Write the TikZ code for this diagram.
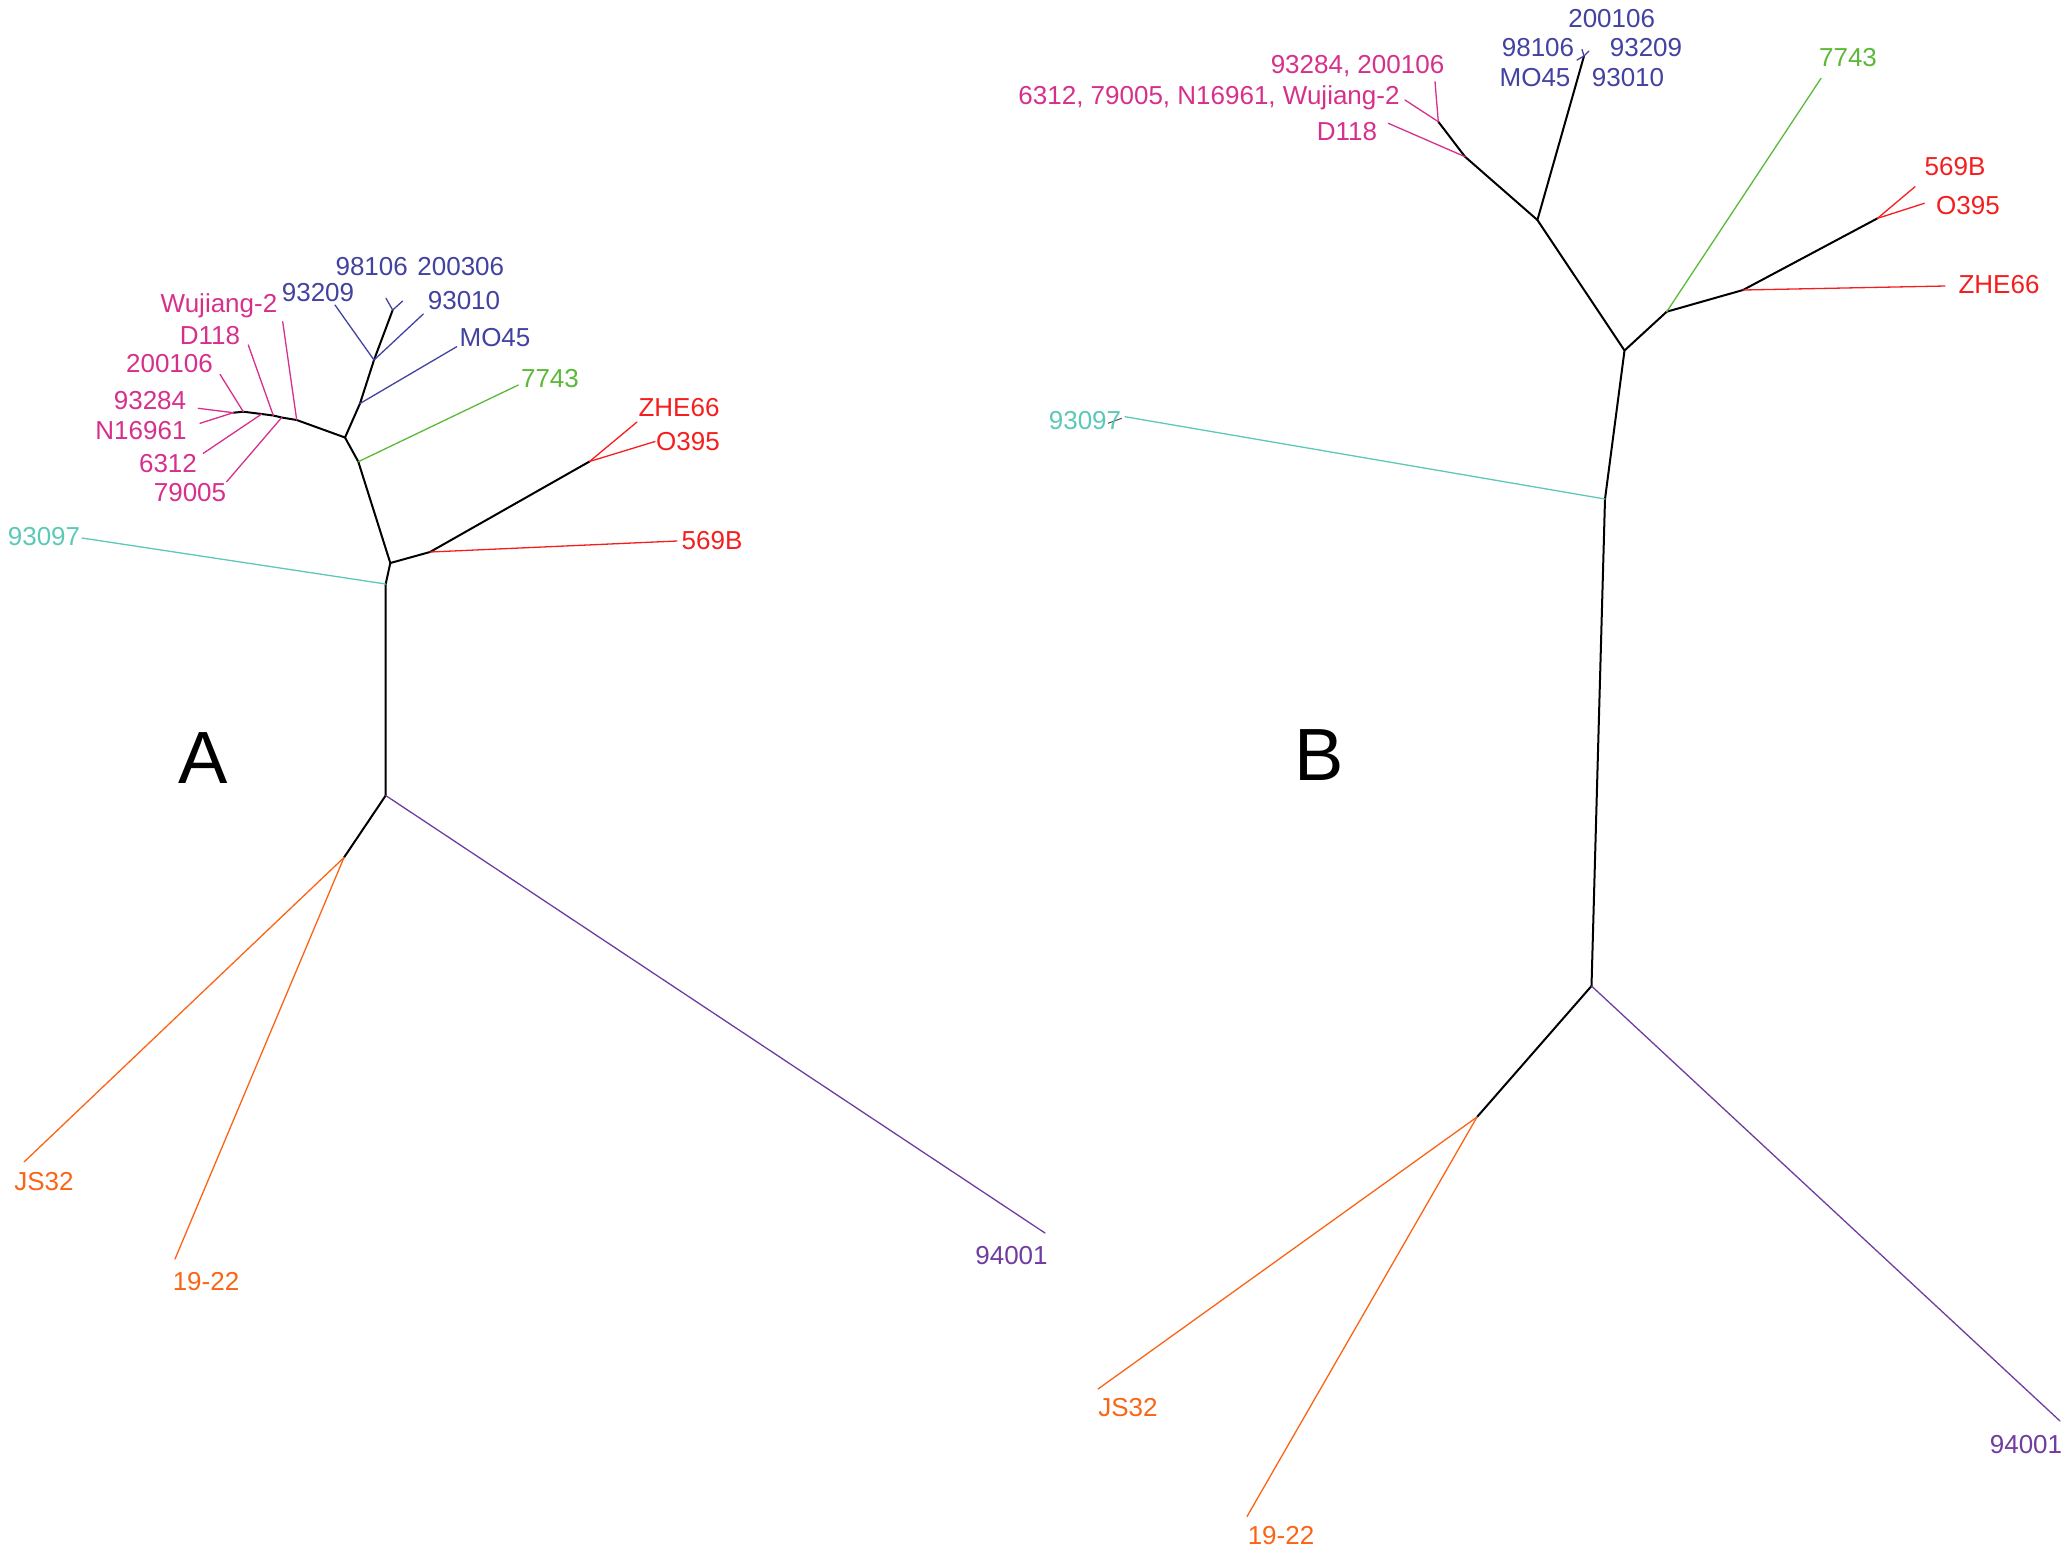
\documentclass[tikz,border=0pt]{standalone}
\usepackage{fontspec}
\setmainfont{Liberation Sans}
\definecolor{cpink}{RGB}{214,48,140}
\definecolor{cblue}{RGB}{66,66,160}
\definecolor{cgreen}{RGB}{92,184,56}
\definecolor{cred}{RGB}{245,30,30}
\definecolor{ccyan}{RGB}{92,200,184}
\definecolor{corange}{RGB}{250,100,20}
\definecolor{cpurple}{RGB}{112,60,160}
\begin{document}
\begin{tikzpicture}[x=0.5pt,y=-0.5pt,
  br/.style={line width=1pt, black, line cap=round, line join=round},
  lf/.style={line width=0.65pt, line cap=round},
  lab/.style={inner sep=0pt, text height=9.3pt, text depth=0pt, font=\fontsize{13}{15}\selectfont},
  big/.style={inner sep=0pt, font=\fontsize{37}{40}\selectfont}]
\useasboundingbox (0,0) rectangle (2067,1555);

% ================= Tree A =================
\coordinate (aR) at (385.7,795.5);
\coordinate (aC) at (385.7,584);
\coordinate (aN) at (390.3,563);
\coordinate (a569j) at (430,552);
\coordinate (aZO) at (589.5,461.5);
\coordinate (aGj) at (358.3,461.7);
\coordinate (aM) at (345,437.5);
\coordinate (aMOj) at (360,403.5);
\coordinate (aB) at (374,360);
\coordinate (aY) at (392.7,310);
\coordinate (p1) at (296.7,420);
\coordinate (p2) at (281.7,417.5);
\coordinate (p3) at (273.3,415.5);
\coordinate (p4) at (261.7,414);
\coordinate (p5) at (243.3,411.7);
\coordinate (p6) at (233.3,412.7);
\coordinate (aO) at (344,857.5);

% tips
\coordinate (tA93097) at (82,538);
\coordinate (tA569B) at (677,541);
\coordinate (tAZHE) at (637,422);
\coordinate (tAO395) at (655,441.5);
\coordinate (tA7743) at (518.3,385);
\coordinate (tAMO45) at (456.7,346.7);
\coordinate (tA93209) at (335,305);
\coordinate (tA93010) at (423.3,314);
\coordinate (tAYl) at (386,298.3);
\coordinate (tAYr) at (402.7,301);
\coordinate (tAWu) at (282.7,321.7);
\coordinate (tA79005) at (226.7,481.7);
\coordinate (tAD118) at (248.3,345);
\coordinate (tA6312) at (203.3,453.3);
\coordinate (tA200106) at (220,374.3);
\coordinate (tA93284) at (198.3,408.3);
\coordinate (tAN16961) at (200,423.3);
\coordinate (tAJS32) at (24,1162);
\coordinate (tA1922) at (175,1259);
\coordinate (tA94001) at (1045,1233);

% black internal branches
\draw[br] (aR) -- (aC) -- (aN) -- (aGj) -- (aM) -- (aMOj) -- (aB) -- (aY);
\draw[br] (aN) -- (a569j) -- (aZO);
\draw[br] (aM) -- (p1) -- (p2) -- (p3) -- (p4) -- (p5) -- (p6);
\draw[br] (aR) -- (aO);

% leaves
\draw[lf,ccyan] (aC) -- (tA93097);
\draw[lf,cred] (a569j) -- (tA569B);
\draw[lf,cred] (aZO) -- (tAZHE);
\draw[lf,cred] (aZO) -- (tAO395);
\draw[lf,cgreen] (aGj) -- (tA7743);
\draw[lf,cblue] (aMOj) -- (tAMO45);
\draw[lf,cblue] (aB) -- (tA93209);
\draw[lf,cblue] (aB) -- (tA93010);
\draw[lf,cblue] (aY) -- (tAYl);
\draw[lf,cblue] (aY) -- (tAYr);
\draw[lf,cpink] (p1) -- (tAWu);
\draw[lf,cpink] (p2) -- (tA79005);
\draw[lf,cpink] (p3) -- (tAD118);
\draw[lf,cpink] (p4) -- (tA6312);
\draw[lf,cpink] (p5) -- (tA200106);
\draw[lf,cpink] (p6) -- (tA93284);
\draw[lf,cpink] (p6) -- (tAN16961);
\draw[lf,corange] (aO) -- (tAJS32);
\draw[lf,corange] (aO) -- (tA1922);
\draw[lf,cpurple] (aR) -- (tA94001);

% labels
\node[lab,ccyan] (lA93097) at (44,536) {93097};
\node[lab,cred] (lA569B) at (712,540) {569B};
\node[lab,cred] (lAZHE) at (679,407) {ZHE66};
\node[lab,cred] (lAO395) at (688,441) {O395};
\node[lab,cgreen] (lA7743) at (550,378) {7743};
\node[lab,cblue] (lAMO45) at (495,337) {MO45};
\node[lab,cblue] (lA93209) at (318,292.5) {93209};
\node[lab,cblue] (lA93010) at (464,300) {93010};
\node[lab,cblue] (lA98106) at (371.7,266) {98106};
\node[lab,cblue] (lA200306) at (460.8,266) {200306};
\node[lab,cpink] (lAWu) at (219,303) {Wujiang-2};
\node[lab,cpink] (lAD118) at (210,335) {D118};
\node[lab,cpink] (lA200106) at (169.5,363) {200106};
\node[lab,cpink] (lA93284) at (150,400) {93284};
\node[lab,cpink] (lAN16961) at (141,430) {N16961};
\node[lab,cpink] (lA6312) at (168,463) {6312};
\node[lab,cpink] (lA79005) at (190,492) {79005};
\node[lab,corange] (lAJS32) at (44,1181) {JS32};
\node[lab,corange] (lA1922) at (206,1281) {19-22};
\node[lab,cpurple] (lA94001) at (1011.5,1255) {94001};
\node[big] (labA) at (203,758) {A};

% ================= Tree B =================
\coordinate (bR) at (1591.5,986);
\coordinate (bC) at (1605,499);
\coordinate (bN) at (1624.5,350.5);
\coordinate (bG) at (1666.7,311.7);
\coordinate (bZ) at (1743,290);
\coordinate (bSO) at (1877.5,218.3);
\coordinate (bP) at (1537.4,220);
\coordinate (bD) at (1465,156.7);
\coordinate (bQ) at (1438.3,121.7);
\coordinate (bT) at (1584,56);
\coordinate (bO) at (1477,1117);

\coordinate (tB569B) at (1915,186.7);
\coordinate (tBO395) at (1924.3,203.3);
\coordinate (tBZHE) at (1945,286);
\coordinate (tB7743) at (1821,78.3);
\coordinate (tBD118) at (1388.3,123.3);
\coordinate (tB93284) at (1435,81.7);
\coordinate (tB6312) at (1405,100);
\coordinate (tB93097) at (1125,416.7);
\coordinate (tBJS32) at (1098,1389);
\coordinate (tB1922) at (1247,1516.5);
\coordinate (tB94001) at (2060,1421);
\coordinate (tBs1) at (1577,60);
\coordinate (tBs2) at (1582,49.5);
\coordinate (tBs3) at (1589,51);
\coordinate (tBk1) at (1108,423.3);
\coordinate (tBk2) at (1121.7,418.3);

\draw[br] (bR) -- (bC) -- (bN) -- (bP) -- (bD) -- (bQ);
\draw[br] (bP) -- (bT);
\draw[br] (bN) -- (bG) -- (bZ) -- (bSO);
\draw[br] (bR) -- (bO);

\draw[lf,cred] (bSO) -- (tB569B);
\draw[lf,cred] (bSO) -- (tBO395);
\draw[lf,cred] (bZ) -- (tBZHE);
\draw[lf,cgreen] (bG) -- (tB7743);
\draw[lf,cpink] (bD) -- (tBD118);
\draw[lf,cpink] (bQ) -- (tB93284);
\draw[lf,cpink] (bQ) -- (tB6312);
\draw[lf,cblue] (bT) -- (tBs1);
\draw[lf,cblue] (bT) -- (tBs2);
\draw[lf,cblue] (bT) -- (tBs3);
\draw[lf,ccyan] (bC) -- (tB93097);
\draw[line width=0.5pt,black!70] (tBk1) -- (tBk2);
\draw[lf,corange] (bO) -- (tBJS32);
\draw[lf,corange] (bO) -- (tB1922);
\draw[lf,cpurple] (bR) -- (tB94001);

\node[lab,cred] (lB569B) at (1955,166) {569B};
\node[lab,cred] (lBO395) at (1968,205) {O395};
\node[lab,cred] (lBZHE) at (1999,284) {ZHE66};
\node[lab,cgreen] (lB7743) at (1848,57.5) {7743};
\node[lab,cpink] (lB93284) at (1357.5,64) {93284, 200106};
\node[lab,cpink] (lB6312) at (1209,95) {6312, 79005, N16961, Wujiang-2};
\node[lab,cpink] (lBD118) at (1347,131) {D118};
\node[lab,cblue] (lB200106) at (1611.7,18.3) {200106};
\node[lab,cblue] (lB98106) at (1538,47.5) {98106};
\node[lab,cblue] (lB93209) at (1646,47.5) {93209};
\node[lab,cblue] (lBMO45) at (1535,76.7) {MO45};
\node[lab,cblue] (lB93010) at (1628,76.7) {93010};
\node[lab,ccyan] (lB93097) at (1085,420) {93097};
\node[lab,corange] (lBJS32) at (1128,1407) {JS32};
\node[lab,corange] (lB1922) at (1281,1535) {19-22};
\node[lab,cpurple] (lB94001) at (2026,1444) {94001};
\node[big] (labB) at (1319,755) {B};
\end{tikzpicture}
\end{document}
